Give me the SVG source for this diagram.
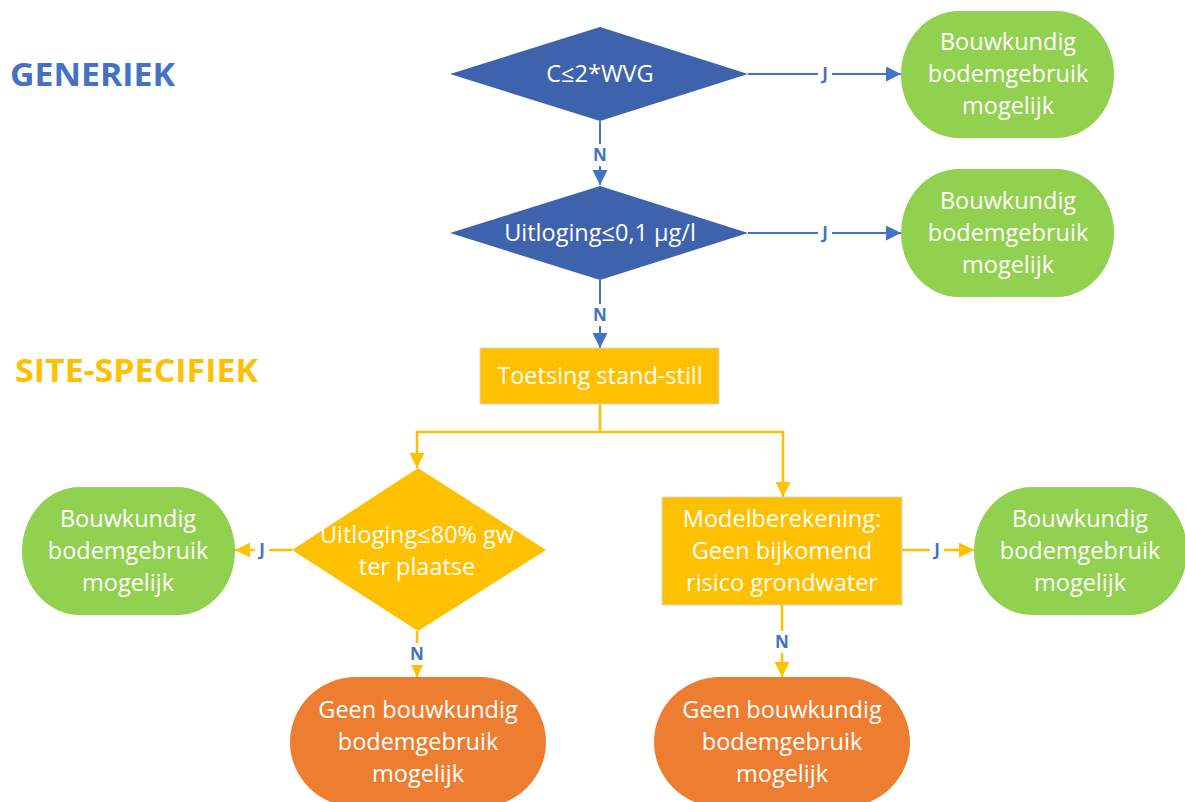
<svg xmlns="http://www.w3.org/2000/svg" width="1185" height="802" viewBox="0 0 1185 802">
<style>
.nt{font-family:"Open Sans","Liberation Sans",sans-serif;font-size:23.5px;fill:#ffffff;text-anchor:middle}
.lbl{font-family:"Open Sans","Liberation Sans",sans-serif;font-size:17px;font-weight:bold;fill:#4472C4;text-anchor:middle}
.bl{stroke:#4472C4;stroke-width:2;fill:none}
.yl{stroke:#FFC000;stroke-width:2.5;fill:none}
.green{fill:#92D050}
.orange{fill:#ED7D31}
.dblue{fill:#3E63AC}
.yellow{fill:#FFC000}
.box{fill:#FFC000;stroke:#D6D6D6;stroke-width:1}
.hd{font-family:"Open Sans","Liberation Sans",sans-serif;font-size:32px;font-weight:bold}
</style>
<defs>
<marker id="ab" markerUnits="userSpaceOnUse" markerWidth="16" markerHeight="16" refX="15" refY="7.5" orient="auto"><path d="M0,0 L15,7.5 L0,15 z" fill="#4472C4"/></marker>
<marker id="ay" markerUnits="userSpaceOnUse" markerWidth="16" markerHeight="16" refX="15" refY="7.5" orient="auto"><path d="M0,0 L15,7.5 L0,15 z" fill="#FFC000"/></marker>
</defs>
<rect width="1185" height="802" fill="#ffffff"/>
<text class="hd" x="10" y="86" fill="#4472C4" textLength="165" lengthAdjust="spacingAndGlyphs">GENERIEK</text>
<text class="hd" x="15" y="382" fill="#FFC000" textLength="243" lengthAdjust="spacingAndGlyphs">SITE-SPECIFIEK</text>

<g id="connectors">
<path class="bl" d="M748,74 L901,74" marker-end="url(#ab)"/>
<path class="bl" d="M600,121 L600,185" marker-end="url(#ab)"/>
<path class="bl" d="M748,233 L901,233" marker-end="url(#ab)"/>
<path class="bl" d="M600,280 L600,348" marker-end="url(#ab)"/>
<path class="yl" d="M600,404 L600,432 L417,432 L417,468" marker-end="url(#ay)"/>
<path class="yl" d="M600,432 L783,432 L783,497" marker-end="url(#ay)"/>
<path class="yl" d="M292,550 L235,550" marker-end="url(#ay)"/>
<path class="yl" d="M417,631 L417,677" marker-end="url(#ay)"/>
<path class="yl" d="M902,550 L974,550" marker-end="url(#ay)"/>
<path class="yl" d="M782,605 L782,677" marker-end="url(#ay)"/>
<rect x="818" y="64" width="14" height="20" fill="#fff"/>
<text class="lbl" x="825" y="80">J</text>
<rect x="592" y="144" width="16" height="22" fill="#fff"/>
<text class="lbl" x="600" y="161">N</text>
<rect x="818" y="223" width="14" height="20" fill="#fff"/>
<text class="lbl" x="825" y="239">J</text>
<rect x="592" y="304" width="16" height="22" fill="#fff"/>
<text class="lbl" x="600" y="321">N</text>
<rect x="255" y="540" width="14" height="20" fill="#fff"/>
<text class="lbl" x="262" y="556">J</text>
<rect x="409" y="643" width="16" height="22" fill="#fff"/>
<text class="lbl" x="417" y="660">N</text>
<rect x="930" y="540" width="14" height="20" fill="#fff"/>
<text class="lbl" x="937" y="556">J</text>
<rect x="774" y="631" width="16" height="22" fill="#fff"/>
<text class="lbl" x="782" y="648">N</text>
</g>

<g id="d1">
<polygon class="dblue" points="600,27 748,74 600,121 450,74"/>
<text class="nt" x="600" y="82">C≤2*WVG</text>
</g>
<g id="d2">
<polygon class="dblue" points="600,186 748,233 600,280 450,233"/>
<text class="nt" x="600" y="241">Uitloging≤0,1 µg/l</text>
</g>
<g id="g1">
<rect class="green" x="901" y="11" width="213" height="127" rx="58" ry="63"/>
<text class="nt" x="1008" y="50">Bouwkundig</text>
<text class="nt" x="1008" y="82">bodemgebruik</text>
<text class="nt" x="1008" y="114">mogelijk</text>
</g>
<g id="g2">
<rect class="green" x="901" y="169" width="213" height="128" rx="58" ry="64"/>
<text class="nt" x="1008" y="209">Bouwkundig</text>
<text class="nt" x="1008" y="241">bodemgebruik</text>
<text class="nt" x="1008" y="273">mogelijk</text>
</g>
<g id="toetsing">
<rect class="box" x="480" y="348" width="239" height="56"/>
<text class="nt" x="600" y="384">Toetsing stand-still</text>
</g>
<g id="d3">
<polygon class="yellow" points="418,468 546,550 418,631 292,550"/>
<text class="nt" x="417" y="543">Uitloging≤80% gw</text>
<text class="nt" x="417" y="575">ter plaatse</text>
</g>
<g id="model">
<rect class="box" x="662" y="497" width="240" height="108"/>
<text class="nt" x="782" y="527">Modelberekening:</text>
<text class="nt" x="782" y="559">Geen bijkomend</text>
<text class="nt" x="782" y="591">risico grondwater</text>
</g>
<g id="g3">
<rect class="green" x="22" y="487" width="213" height="128" rx="58" ry="64"/>
<text class="nt" x="128" y="527">Bouwkundig</text>
<text class="nt" x="128" y="559">bodemgebruik</text>
<text class="nt" x="128" y="591">mogelijk</text>
</g>
<g id="g4">
<rect class="green" x="974" y="487" width="213" height="128" rx="58" ry="64"/>
<text class="nt" x="1080" y="527">Bouwkundig</text>
<text class="nt" x="1080" y="559">bodemgebruik</text>
<text class="nt" x="1080" y="591">mogelijk</text>
</g>
<g id="o1">
<rect class="orange" x="290" y="677" width="256" height="130" rx="66" ry="65"/>
<text class="nt" x="418" y="718">Geen bouwkundig</text>
<text class="nt" x="418" y="750">bodemgebruik</text>
<text class="nt" x="418" y="782">mogelijk</text>
</g>
<g id="o2">
<rect class="orange" x="654" y="677" width="256" height="130" rx="66" ry="65"/>
<text class="nt" x="782" y="718">Geen bouwkundig</text>
<text class="nt" x="782" y="750">bodemgebruik</text>
<text class="nt" x="782" y="782">mogelijk</text>
</g>
</svg>
